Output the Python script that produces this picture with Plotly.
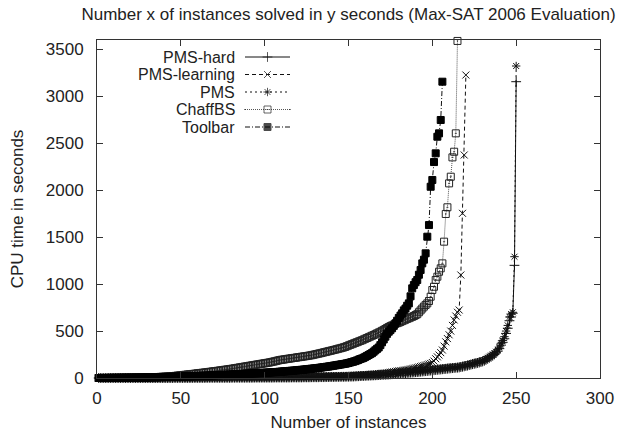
import plotly.graph_objects as go

# ---------------- data (sorted CPU times per solver, one value per solved instance) ----
toolbar = [
    0,0,0,0,0,0,0,1,1,1,
    1,1,1,1,2,2,2,2,2,3,
    3,3,3,4,4,4,5,5,5,6,
    6,6,7,7,8,8,9,9,10,10,
    11,11,12,12,13,13,14,14,15,16,
    16,17,17,18,18,19,20,20,21,22,
    22,23,24,24,25,26,26,27,28,29,
    29,30,31,32,33,33,34,35,36,37,
    38,39,39,40,41,42,43,44,45,46,
    47,48,49,50,51,52,53,54,55,56,
    57,58,59,60,62,63,64,65,67,68,
    70,71,73,74,76,77,79,80,82,84,
    86,87,89,91,93,95,97,99,101,103,
    105,107,110,112,115,117,120,122,125,128,
    131,134,137,140,143,146,149,152,156,160,
    165,170,175,180,187,194,202,208,215,225,
    235,245,255,265,280,295,310,325,350,380,
    410,440,470,493,510,530,555,582,610,640,
    665,689,720,740,770,795,870,955,990,1020,
    1044,1100,1150,1221,1260,1328,1505,1629,2037,2109,
    2300,2393,2570,2606,2748,3156,
]

chaffbs = [
    0,0,0,0,0,1,1,1,1,1,
    1,2,2,2,2,2,3,3,3,3,
    4,4,4,5,5,5,6,6,7,7,
    8,8,9,9,10,10,11,12,13,14,
    15,16,17,18,20,21,23,25,27,29,
    31,33,35,37,39,41,43,45,47,50,
    52,54,56,58,60,63,65,67,70,72,
    74,77,79,82,84,87,89,92,95,97,
    100,103,106,109,112,115,118,121,124,127,
    130,133,136,139,142,145,148,151,154,157,
    160,163,166,170,174,178,182,187,191,194,
    196,199,202,205,207,210,213,215,218,221,
    223,226,229,231,234,237,240,243,247,251,
    255,259,263,267,272,276,280,285,289,293,
    298,302,307,312,316,321,326,331,339,346,
    353,360,367,374,381,388,395,402,410,418,
    426,434,442,450,458,466,475,484,492,502,
    512,522,533,543,552,560,568,578,584,590,
    598,606,614,622,630,637,645,652,660,670,
    680,700,720,740,760,778,795,820,866,937,
    972,1044,1079,1132,1168,1221,1452,1747,1818,2073,
    2144,2350,2410,2606,3590,
]

pms_learning = [
    0,0,0,0,0,0,0,0,0,0,
    0,0,0,0,0,0,0,0,1,1,
    1,1,1,1,1,1,1,1,1,1,
    1,1,1,1,1,2,2,2,2,2,
    2,2,2,2,2,3,3,3,3,3,
    3,3,3,3,3,4,4,4,4,4,
    4,4,5,5,5,5,5,5,6,6,
    6,6,6,6,7,7,7,7,7,8,
    8,8,8,8,9,9,9,9,10,10,
    10,10,11,11,11,11,12,12,12,12,
    13,13,13,13,14,14,14,14,15,15,
    15,15,16,16,16,16,17,17,17,17,
    18,18,18,18,19,19,19,19,20,20,
    20,20,20,20,20,20,20,20,20,20,
    20,21,21,22,22,23,23,24,24,25,
    26,27,28,29,30,31,32,33,34,35,
    36,37,38,40,41,43,44,46,48,50,
    52,54,56,59,61,64,67,70,73,76,
    78,80,83,86,89,92,96,100,104,108,
    112,117,122,127,132,137,142,148,155,165,
    180,205,225,245,270,298,340,385,420,460,
    500,560,618,660,700,724,1097,1754,2375,3227,
]

pms = [
    0,0,0,0,0,0,0,0,0,0,
    0,0,0,0,0,0,0,0,0,0,
    0,0,0,0,0,0,0,0,0,0,
    0,0,0,0,0,1,1,1,1,1,
    1,1,1,1,1,1,1,1,1,1,
    1,1,1,1,1,1,2,2,2,2,
    2,2,2,2,2,2,2,3,3,3,
    3,3,3,3,3,3,3,4,4,4,
    4,4,4,4,4,4,4,4,5,5,
    5,5,5,5,5,5,5,5,5,5,
    5,5,5,6,6,6,6,6,6,6,
    6,6,7,7,7,7,7,7,8,8,
    8,8,8,9,9,9,9,10,10,10,
    10,11,11,11,12,12,12,13,13,13,
    13,14,14,14,14,15,15,15,16,16,
    17,18,19,20,21,22,23,24,25,26,
    27,27,28,28,29,30,31,32,33,34,
    36,37,39,40,42,43,45,47,49,51,
    52,54,56,57,59,61,63,65,67,68,
    70,72,75,77,79,82,84,86,88,90,
    92,94,96,98,100,102,104,106,108,110,
    111,113,115,116,118,120,124,128,132,136,
    140,145,150,156,160,163,168,174,178,185,
    192,203,215,227,238,250,265,280,300,330,
    370,400,440,500,560,650,680,700,1292,3323,
]

pms_hard = [
    0,0,0,0,0,0,0,0,0,0,
    0,0,0,0,0,0,0,0,0,0,
    0,0,0,0,0,0,0,0,0,0,
    0,0,0,0,0,0,0,0,0,0,
    0,0,0,0,0,1,1,1,1,1,
    1,1,1,1,1,1,1,1,1,1,
    1,1,1,1,1,2,2,2,2,2,
    2,2,2,2,2,2,2,2,2,2,
    3,3,3,3,3,3,3,3,3,3,
    3,3,3,4,4,4,4,4,4,4,
    4,4,4,4,4,5,5,5,5,5,
    5,5,5,5,5,6,6,6,6,6,
    6,6,7,7,7,7,7,8,8,8,
    8,8,9,9,9,9,10,10,10,11,
    11,11,12,12,12,13,13,13,14,14,
    15,15,16,17,18,19,20,21,22,23,
    24,25,26,27,28,29,30,31,32,33,
    34,35,36,37,39,40,42,43,45,46,
    48,49,51,52,54,55,57,58,60,62,
    63,65,67,69,71,73,75,77,79,81,
    83,85,87,89,91,93,95,97,99,101,
    103,105,107,109,110,112,116,120,124,128,
    132,137,142,147,151,155,160,165,170,176,
    183,193,204,215,225,237,251,266,285,313,
    350,380,418,475,530,610,650,690,1200,3156,
]

series_names = ["PMS-hard", "PMS-learning", "PMS", "ChaffBS", "Toolbar"]
series_values = [pms_hard, pms_learning, pms, chaffbs, toolbar]
x_ticks = [0, 50, 100, 150, 200, 250, 300]
y_ticks = [0, 500, 1000, 1500, 2000, 2500, 3000, 3500]

# ---------------- styles ----------------
styles = {
    "PMS-hard":     dict(dash="solid",            color="#111", symbol="cross-thin-open",  mcolor="#111"),
    "PMS-learning": dict(dash="4px,3px",          color="#111", symbol="x-thin-open",      mcolor="#111"),
    "PMS":          dict(dash="2px,3px",          color="#111", symbol="asterisk-open",    mcolor="#111"),
    "ChaffBS":      dict(dash="1px,1px",          color="#555", symbol="square-open-dot",  mcolor="#222"),
    "Toolbar":      dict(dash="5px,2px,1px,2px",  color="#111", symbol="square",           mcolor="#000"),
}

FONT = "Liberation Sans, Arial, Helvetica, sans-serif"
FS = 17
LEG_FS = 16
TXT = "#222"
W, H = 628, 432
L, R, T, B = 97, 600, 40, 378

fig = go.Figure()
for name, vals in zip(series_names, series_values):
    s = styles[name]
    fig.add_trace(go.Scatter(
        x=list(range(1, len(vals) + 1)), y=vals, mode="lines+markers", name=name,
        line=dict(color=s["color"], width=1, dash=s["dash"]),
        marker=dict(symbol=s["symbol"], size=7, color=s["mcolor"],
                    line=dict(color=s["mcolor"], width=1)),
        cliponaxis=False, showlegend=False,
    ))

# ---------------- gnuplot-style legend (text left, sample right) ----------------
leg_rows = [57, 74.5, 92, 109.5, 127]
leg_text_right = 236
leg_x0, leg_x1 = 245, 290
for name, yrow in zip(series_names, leg_rows):
    s = styles[name]
    fig.add_trace(go.Scatter(
        x=[leg_x0, (leg_x0 + leg_x1) / 2, leg_x1], y=[yrow, yrow, yrow],
        xaxis="x2", yaxis="y2", mode="lines+markers", showlegend=False, hoverinfo="skip",
        line=dict(color=s["color"], width=1, dash=s["dash"]),
        marker=dict(symbol=s["symbol"], size=[0, 7, 0], color=s["mcolor"],
                    line=dict(color=s["mcolor"], width=1)),
    ))
    fig.add_annotation(
        x=(leg_text_right - L) / (R - L), y=1 - (yrow - T) / (B - T),
        xref="paper", yref="paper", text=name, showarrow=False,
        xanchor="right", yanchor="middle", borderpad=0,
        font=dict(family=FONT, size=LEG_FS, color=TXT),
    )

axis_common = dict(showline=True, linecolor="#333", linewidth=1, mirror="allticks",
                   ticks="inside", ticklen=6, tickwidth=1, tickcolor="#333",
                   showgrid=False, zeroline=False, automargin=False,
                   tickfont=dict(family=FONT, size=FS, color=TXT))

fig.update_layout(
    width=W, height=H,
    margin=dict(l=L, r=W - R, t=T, b=H - B, pad=0, autoexpand=False),
    paper_bgcolor="white", plot_bgcolor="white",
    font=dict(family=FONT, size=FS, color=TXT),
    title=dict(text="Number x of instances solved in y seconds (Max-SAT 2006 Evaluation)",
               x=(L + R) / 2 / W, xanchor="center", y=1 - 14 / H, yanchor="middle",
               font=dict(family=FONT, size=FS, color=TXT)),
    xaxis=dict(range=[0, 300], tickvals=x_ticks, ticklabelstandoff=5,
               title=dict(text="Number of instances", standoff=10,
                          font=dict(family=FONT, size=FS, color=TXT)),
               **axis_common),
    yaxis=dict(range=[0, 3600], tickvals=y_ticks, ticklabelstandoff=9,
               title=dict(text="CPU time in seconds", standoff=17,
                          font=dict(family=FONT, size=FS, color=TXT)),
               **axis_common),
    xaxis2=dict(range=[L, R], overlaying="x", visible=False, fixedrange=True),
    yaxis2=dict(range=[B, T], overlaying="y", visible=False, fixedrange=True),
    showlegend=False,
)

fig.write_html("out.html")
